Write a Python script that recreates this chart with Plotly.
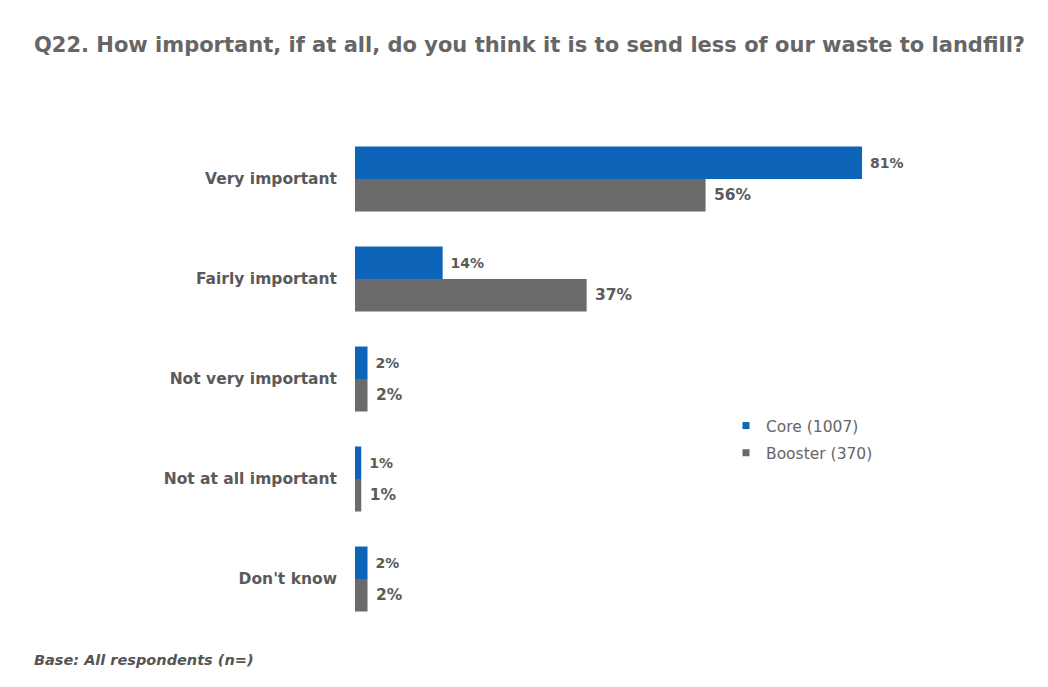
import plotly.graph_objects as go

categories = ["Very important", "Fairly important", "Not very important", "Not at all important", "Don't know"]
core_values = [81, 14, 2, 1, 2]
booster_values = [56, 37, 2, 1, 2]
series_names = ["Core (1007)", "Booster (370)"]

title_text = "Q22. How important, if at all, do you think it is to send less of our waste to landfill?"
footer_text = "Base: All respondents (n=)"

BLUE = "#0D64B8"
GREY = "#6A6A6A"
TXT = "#5A5A5A"
FONT = "DejaVu Sans"

# plot area in figure pixels
L, R, T, B = 347, 75, 121, 66
W, H = 1048, 687
PW, PH = W - L - R, H - T - B

def px_x(x):
    return (x - L) / PW

def px_y(y):
    return (H - B - y) / PH

NB = "\u00a0"

fig = go.Figure()
fig.add_trace(go.Bar(
    y=categories, x=core_values, orientation="h", name=series_names[0], showlegend=False,
    marker=dict(color=BLUE, line=dict(width=0)),
    text=[f"{NB}{v}%" for v in core_values], textposition="outside", cliponaxis=False,
    textfont=dict(family=FONT, size=14, color=TXT, weight="bold"),
))
fig.add_trace(go.Bar(
    y=categories, x=booster_values, orientation="h", name=series_names[1], showlegend=False,
    marker=dict(color=GREY, line=dict(width=0)),
    text=[f"{NB}{v}%" for v in booster_values], textposition="outside", cliponaxis=False,
    textfont=dict(family=FONT, size=15.5, color=TXT, weight="bold"),
))
# legend entries with small square symbols
for name, col, grp in [(series_names[0], BLUE, "a"), (series_names[1], GREY, "b")]:
    fig.add_trace(go.Scatter(
        x=[None], y=[None], mode="markers", name=name, legendgroup=grp,
        marker=dict(symbol="square", size=7, color=col),
    ))

fig.update_layout(
    width=W, height=H,
    paper_bgcolor="white", plot_bgcolor="white",
    barmode="group", bargap=0.35, bargroupgap=0,
    margin=dict(l=L, r=R, t=T, b=B, autoexpand=False),
    showlegend=True,
    legend=dict(x=px_x(718), y=px_y(401), xref="paper", yref="paper", xanchor="left", yanchor="top",
                font=dict(family=FONT, size=15.5, color="#666666"),
                itemwidth=30, bgcolor="rgba(0,0,0,0)", tracegroupgap=4),
    xaxis=dict(range=[0, 100], visible=False, showgrid=False, zeroline=False),
    yaxis=dict(autorange="reversed", showgrid=False, zeroline=False, showline=False,
               ticks="", ticklabelstandoff=17,
               tickfont=dict(family=FONT, size=15.5, color=TXT, weight="bold")),
    annotations=[
        dict(text=title_text, xref="paper", yref="paper",
             x=px_x(24), y=px_y(37), xanchor="left", yanchor="middle",
             showarrow=False, font=dict(family=FONT, size=21, color="#666666", weight="bold")),
        dict(text=f"<i>{footer_text}</i>", xref="paper", yref="paper",
             x=px_x(24), y=px_y(652), xanchor="left", yanchor="middle",
             showarrow=False, font=dict(family=FONT, size=14.5, color="#555555", weight="bold")),
    ],
)

fig.write_html("out.html")
